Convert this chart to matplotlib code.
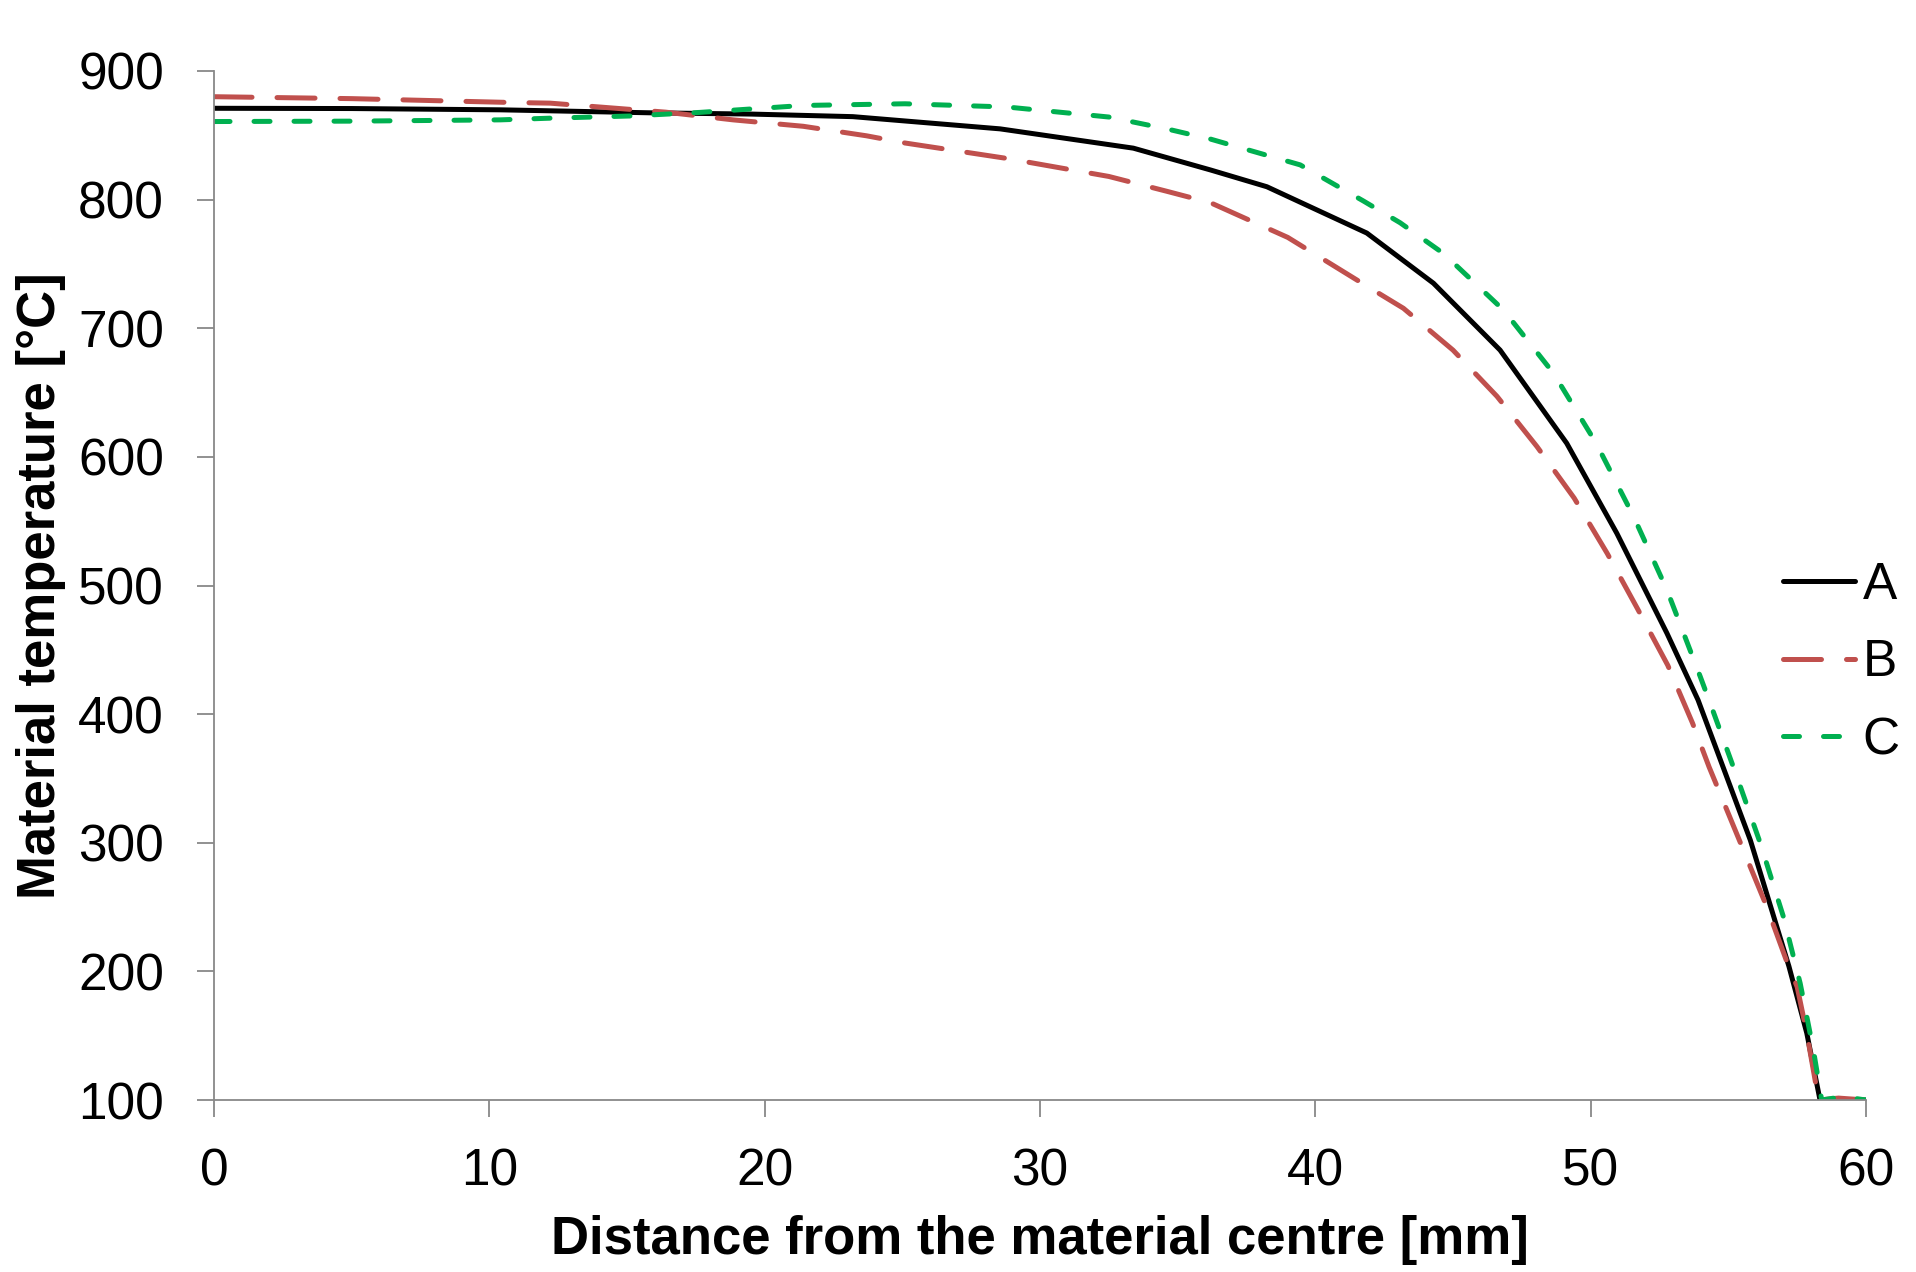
import matplotlib
matplotlib.use("Agg")
import matplotlib.pyplot as plt

plt.rcParams['font.family'] = ['Liberation Sans', 'DejaVu Sans']

# distance from the material centre [mm] and temperature [°C]
dist_a = [0, 5, 10.4, 15.8, 19.5, 23.2, 28.55, 33.39, 36.2, 38.24, 41.87, 43.08,
          44.29, 46.71, 49.13, 50.95, 52.77, 53.9, 54.58, 55.8, 57.2, 57.85, 58.33,
          59, 60]
temp_a = [871, 870.8, 869.8, 867.5, 866.5, 864.5, 855, 840, 823, 810, 774, 754.5,
          735, 683, 610.6, 540.6, 462.9, 411, 372, 302, 204, 152, 100,
          100, 100]

dist_b = [0, 5, 10.8, 12.2, 16.4, 18.85, 21.4, 23.7, 25.1, 28.8, 32.5, 34.6, 36.2,
          39.0, 41.7, 43.2, 45.0, 46.6, 48.05, 49.4, 50.6, 51.7, 52.8, 53.7, 54.3,
          55.4, 56.4, 57.1, 57.5, 57.85, 58.28, 59, 60]
temp_b = [880, 878.5, 875.5, 875, 868, 862, 857, 849.6, 844, 832, 818, 806.5, 797.5,
          770.6, 735, 715.5, 683, 647, 608, 568, 525, 482, 438, 393, 359,
          302, 250, 209, 188, 152, 100, 101.5, 100]

dist_c = [0, 5, 10.4, 12.2, 15.1, 17.65, 21.4, 25.1, 28.8, 32.5, 34.6, 36.2, 39.45,
          41.74, 43.08, 44.66, 46.84, 48.65, 50.2, 51.56, 52.77, 53.98, 54.4, 55.31,
          56.16, 57.0, 57.61, 58.09, 58.39, 59.17, 60]
temp_c = [860.7, 861, 862, 863.3, 865, 867.8, 873.2, 874.5, 872, 864.2, 855, 847, 827,
          799, 782, 758, 714, 665, 610.6, 553.6, 496.6, 429.2, 405, 351.4,
          299.7, 242.5, 190.7, 138.9, 100, 102.6, 100]

series_names = ['A', 'B', 'C']

x_ticks = list(range(0, 61, 10))
y_ticks = list(range(100, 901, 100))

fig = plt.figure(figsize=(19.16, 12.72), dpi=100)
ax = fig.add_axes([0.1117, 0.1352, 0.8622, 0.809])

lw = 3.6
ax.plot(dist_a, temp_a, color='black', lw=lw, label=series_names[0],
        solid_capstyle='round', solid_joinstyle='round')
ax.plot(dist_b, temp_b, color='#c0504d', lw=lw, label=series_names[1],
        dashes=(7.6, 5.0), dash_capstyle='round', dash_joinstyle='round')
ax.plot(dist_c, temp_c, color='#00b050', lw=lw, label=series_names[2],
        dashes=(3.2, 4.8), dash_capstyle='round', dash_joinstyle='round')

ax.set_xlim(0, 60)
ax.set_ylim(100, 900)
ax.set_xticks(x_ticks)
ax.set_yticks(y_ticks)

for side in ['top', 'right']:
    ax.spines[side].set_visible(False)
for side in ['left', 'bottom']:
    ax.spines[side].set_color('#888888')
    ax.spines[side].set_linewidth(1.3)

ax.tick_params(axis='both', direction='out', length=12, width=1.3,
               color='#888888', labelsize=37, pad=24)
ax.tick_params(axis='x', pad=22)

ax.set_xlabel('Distance from the material centre [mm]', fontsize=38,
              fontweight='bold', va='top')
ax.set_ylabel('Material temperature [°C]', fontsize=38, fontweight='bold')
ax.xaxis.set_label_coords(0.5, -0.112)
ax.yaxis.set_label_coords(-0.0894, 0.5)

ax.legend(loc='center left', bbox_to_anchor=(1783 / 1916, 1 - 663 / 1272),
          bbox_transform=fig.transFigure, frameon=False, fontsize=37,
          handlelength=1.4, handletextpad=0.15, labelspacing=0.56,
          borderpad=0, borderaxespad=0)

fig.savefig('out.png', dpi=100)
